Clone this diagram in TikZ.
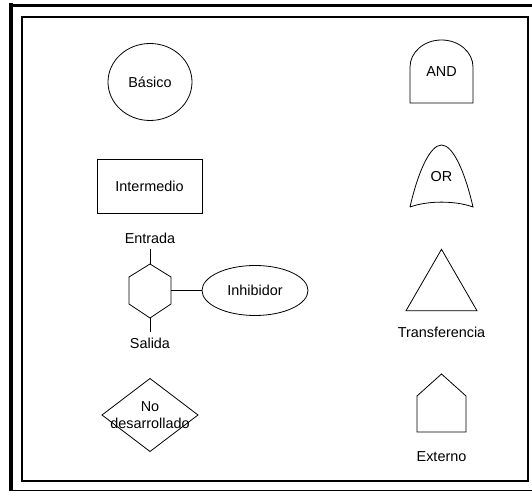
\documentclass[tikz,border=0pt]{standalone}
\usepackage{fontspec}
\setmainfont{Liberation Sans}
\usetikzlibrary{shapes.geometric,positioning}

\begin{document}
\begin{tikzpicture}[x=1pt,y=1pt,line width=0.8pt,
font=\fontsize{14.4}{17}\selectfont]
\tikzstyle{every node}=[inner sep=0pt,outer sep=0pt]
\tikzstyle{event}=[draw=black,fill=white,text=black]
\useasboundingbox (0,0) rectangle (532,492);

% marcos
\draw[line width=3pt] (9,486.5) -- (532,486.5);
\draw[line width=4pt] (11,488.5) -- (11,0.9);
\draw[line width=1.2pt] (9,1.5) -- (532,1.5);
\draw[line width=2pt] (22,11) rectangle (528,475);

% columna izquierda
\node[event,ellipse,minimum width=84pt,minimum height=77pt] (basico) at (150,410) {Básico};
\node[event,rectangle,minimum width=105pt,minimum height=54pt] (intermedio) at (149.5,306) {Intermedio};

\draw (150,228) coordinate (hextop) -- (171,215) -- (171,188) -- (150,174) coordinate (hexbot)
      -- (129,188) -- (129,215) -- cycle;
\coordinate (hexright) at (171,201.5);
\coordinate (entradaend) at (150,243);
\coordinate (salidaend) at (150,160);
\node (entrada) at (150,254) {Entrada};
\node (salida) at (150,149) {Salida};
\node[event,ellipse,minimum width=106pt,minimum height=50pt] (inhibidor) at (255,201.5) {Inhibidor};
\draw (entradaend) -- (hextop);
\draw (hexbot) -- (salidaend);
\draw (hexright) -- (inhibidor);

\node[event,diamond,minimum width=96pt,minimum height=73pt] (nodes) at (150,77) {};
\node[align=center] (nodestext) at (nodes) {No\\desarrollado};

% columna derecha
\draw (410,389) -- (410,425) arc[start angle=180,end angle=0,x radius=31.5,y radius=27]
      -- (473,389) -- cycle;
\node (and) at (441.5,420) {AND};

\draw (410,285) .. controls (418,320) and (430,347) .. (441.5,347)
      .. controls (453,347) and (465,320) .. (473,285)
      .. controls (455,291.5) and (428,291.5) .. (410,285);
\node (or) at (441.5,315) {OR};

\node[event,regular polygon,regular polygon sides=3,minimum size=82pt] (transfer) at (441.5,201.7) {};
\node (transferencia) at (441.5,160) {Transferencia};

\draw (441.5,118) -- (466,96) -- (466,60) -- (417,60) -- (417,96) -- cycle;
\node (externo) at (441.5,35) {Externo};
\end{tikzpicture}
\end{document}
